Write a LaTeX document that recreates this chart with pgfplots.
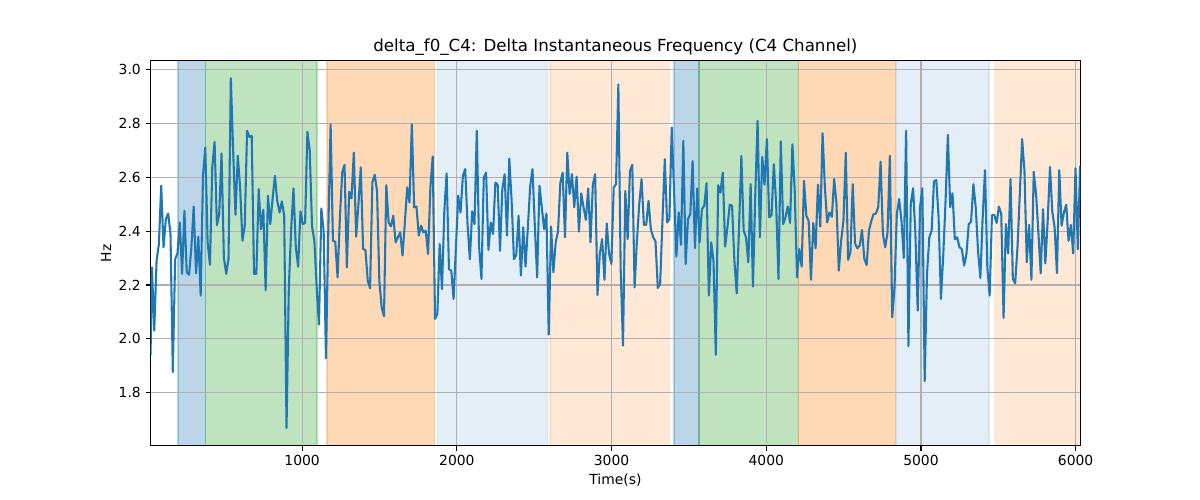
\documentclass[border=0pt]{standalone}
\usepackage{fontspec}
\setmainfont{DejaVu Sans}
\usepackage{pgfplots}
\pgfplotsset{compat=1.18}
\definecolor{c0}{HTML}{1F77B4}
\definecolor{c1}{HTML}{FF7F0E}
\definecolor{c2}{HTML}{2CA02C}
\definecolor{gridc}{HTML}{B0B0B0}
\pgfplotsset{span/.style={forget plot, fill=#1, draw=#1, line width=1pt},
  base/.style={at={(0,0)}, anchor=south west,
  scale only axis, width=669.5pt, height=277.2pt,
  xmin=20, xmax=6030, ymin=1.604, ymax=3.032}}
\begin{document}
\begin{tikzpicture}
\useasboundingbox (-108.4pt,-39.1pt) rectangle (755.7pt,320.9pt);
% background spans
\begin{axis}[base, hide axis]
\addplot[span=c0, fill opacity=0.3, draw opacity=0.3] coordinates {(197,1.604) (375,1.604) (375,3.032) (197,3.032) (197,1.604)};
\addplot[span=c2, fill opacity=0.3, draw opacity=0.3] coordinates {(375,1.604) (1096,1.604) (1096,3.032) (375,3.032) (375,1.604)};
\addplot[span=c1, fill opacity=0.3, draw opacity=0.3] coordinates {(1161,1.604) (1857,1.604) (1857,3.032) (1161,3.032) (1161,1.604)};
\addplot[span=c0, fill opacity=0.12, draw opacity=0.12] coordinates {(1876,1.604) (2586,1.604) (2586,3.032) (1876,3.032) (1876,1.604)};
\addplot[span=c1, fill opacity=0.17, draw opacity=0.17] coordinates {(2603,1.604) (3373,1.604) (3373,3.032) (2603,3.032) (2603,1.604)};
\addplot[span=c0, fill opacity=0.3, draw opacity=0.3] coordinates {(3404,1.604) (3566,1.604) (3566,3.032) (3404,3.032) (3404,1.604)};
\addplot[span=c2, fill opacity=0.3, draw opacity=0.3] coordinates {(3566,1.604) (4207,1.604) (4207,3.032) (3566,3.032) (3566,1.604)};
\addplot[span=c1, fill opacity=0.3, draw opacity=0.3] coordinates {(4207,1.604) (4834,1.604) (4834,3.032) (4207,3.032) (4207,1.604)};
\addplot[span=c0, fill opacity=0.12, draw opacity=0.12] coordinates {(4839,1.604) (5440,1.604) (5440,3.032) (4839,3.032) (4839,1.604)};
\addplot[span=c1, fill opacity=0.17, draw opacity=0.17] coordinates {(5475,1.604) (6030,1.604) (6030,3.032) (5475,3.032)};
\end{axis}
\begin{axis}[base,
  name=ax,
  xtick={1000,2000,3000,4000,5000,6000},
  ytick={1.8,2.0,2.2,2.4,2.6,2.8,3.0},
  xtick pos=left, ytick pos=left,
  tick align=outside,
  major tick length=3.5pt,
  tick style={black, line width=0.8pt},
  axis line style={black, line width=0.8pt},
  grid=major,
  grid style={gridc, line width=0.8pt},
  scaled ticks=false,
  /pgf/number format/assume math mode=true,
  xticklabel style={/pgf/number format/1000 sep={}},
  yticklabel style={/pgf/number format/fixed, /pgf/number format/fixed zerofill, /pgf/number format/precision=1},
  tick label style={font=\fontsize{10}{12}\selectfont},
]
\addplot[c0, line width=1.5pt, line join=round, mark=none] coordinates {
(20,1.94)
(29,2.265) (44,2.031) (59,2.29) (74,2.352) (89,2.568) (104,2.34) (119,2.444) (134,2.465) (149,2.389) (164,1.877)
(179,2.296) (194,2.317) (209,2.432) (224,2.241) (239,2.475) (254,2.247) (269,2.238) (284,2.339) (299,2.491) (314,2.243)
(329,2.379) (344,2.160) (359,2.605) (374,2.71) (389,2.358) (404,2.275) (419,2.636) (434,2.731) (449,2.422) (464,2.463)
(479,2.688) (494,2.302) (509,2.241) (524,2.296) (539,2.967) (554,2.698) (569,2.46) (584,2.679) (599,2.562) (614,2.364)
(629,2.42) (644,2.772) (659,2.749) (674,2.753) (689,2.241) (704,2.241) (719,2.556) (734,2.407) (749,2.479) (764,2.181)
(779,2.531) (794,2.426) (809,2.52) (824,2.605) (839,2.512) (854,2.469) (869,2.51) (884,2.457) (899,1.669) (914,2.191)
(929,2.407) (944,2.558) (959,2.34) (974,2.268) (989,2.473) (1004,2.426) (1019,2.43) (1034,2.768) (1049,2.698) (1064,2.417)
(1079,2.364) (1094,2.191) (1109,2.053) (1124,2.484) (1139,2.401) (1154,1.928) (1169,2.4) (1184,2.796) (1199,2.364) (1214,2.36)
(1229,2.228) (1244,2.45) (1259,2.617) (1274,2.646) (1289,2.265) (1304,2.546) (1319,2.521) (1334,2.691) (1349,2.379) (1364,2.5)
(1379,2.636) (1394,2.333) (1409,2.33) (1424,2.216) (1439,2.188) (1454,2.58) (1469,2.609) (1484,2.549) (1499,2.216) (1514,2.117)
(1529,2.084) (1544,2.57) (1559,2.432) (1574,2.417) (1589,2.457) (1604,2.358) (1619,2.377) (1634,2.395) (1649,2.309) (1664,2.432)
(1679,2.562) (1694,2.506) (1709,2.796) (1724,2.488) (1739,2.491) (1754,2.383) (1769,2.42) (1784,2.395) (1799,2.401) (1814,2.315)
(1829,2.562) (1844,2.677) (1859,2.074) (1874,2.093) (1889,2.352) (1904,2.185) (1919,2.475) (1934,2.614) (1949,2.259) (1964,2.253)
(1979,2.148) (1994,2.34) (2009,2.531) (2024,2.469) (2039,2.605) (2054,2.63) (2069,2.426) (2084,2.296) (2099,2.473) (2114,2.426)
(2129,2.772) (2144,2.34) (2159,2.222) (2174,2.599) (2189,2.617) (2204,2.33) (2219,2.432) (2234,2.389) (2249,2.58) (2264,2.572)
(2279,2.327) (2294,2.556) (2309,2.611) (2324,2.383) (2339,2.669) (2354,2.512) (2369,2.296) (2384,2.311) (2399,2.457) (2414,2.235)
(2429,2.414) (2444,2.268) (2459,2.414) (2474,2.565) (2489,2.63) (2504,2.42) (2519,2.228) (2534,2.568) (2549,2.488) (2564,2.407)
(2579,2.465) (2594,2.016) (2609,2.417) (2624,2.247) (2639,2.358) (2654,2.399) (2669,2.58) (2684,2.617) (2699,2.377) (2714,2.691)
(2729,2.537) (2744,2.611) (2759,2.488) (2774,2.602) (2789,2.398) (2804,2.54) (2819,2.488) (2834,2.441) (2849,2.558) (2864,2.358)
(2879,2.572) (2894,2.611) (2909,2.163) (2924,2.315) (2939,2.37) (2954,2.219) (2969,2.428) (2984,2.315) (2999,2.278) (3014,2.562)
(3029,2.574) (3044,2.944) (3059,2.259) (3074,1.975) (3089,2.549) (3104,2.37) (3119,2.623) (3134,2.646) (3149,2.191) (3164,2.364)
(3179,2.5) (3194,2.593) (3209,2.423) (3224,2.423) (3239,2.512) (3254,2.407) (3269,2.377) (3284,2.362) (3299,2.189) (3314,2.204)
(3329,2.438) (3344,2.667) (3359,2.432) (3374,2.444) (3389,2.784) (3404,2.549) (3419,2.305) (3434,2.469) (3449,2.349) (3464,2.735)
(3479,2.278) (3494,2.444) (3509,2.463) (3524,2.66) (3539,2.337) (3554,2.558) (3569,2.358) (3584,2.481) (3599,2.494) (3614,2.578)
(3629,2.161) (3644,2.358) (3659,2.29) (3674,1.941) (3689,2.57) (3704,2.543) (3719,2.617) (3734,2.342) (3749,2.414) (3764,2.498)
(3779,2.494) (3794,2.29) (3809,2.169) (3824,2.414) (3839,2.679) (3854,2.401) (3869,2.377) (3884,2.284) (3899,2.574) (3914,2.194)
(3929,2.537) (3944,2.809) (3959,2.377) (3974,2.675) (3989,2.572) (4004,2.741) (4019,2.451) (4034,2.459) (4049,2.648) (4064,2.5)
(4079,2.222) (4094,2.733) (4109,2.426) (4124,2.451) (4139,2.491) (4154,2.43) (4169,2.722) (4184,2.549) (4199,2.228) (4214,2.333)
(4229,2.268) (4244,2.586) (4259,2.457) (4274,2.438) (4289,2.219) (4304,2.43) (4319,2.336) (4334,2.572) (4349,2.417) (4364,2.763)
(4379,2.562) (4394,2.432) (4409,2.469) (4424,2.453) (4439,2.593) (4454,2.5) (4469,2.253) (4484,2.364) (4499,2.438) (4514,2.691)
(4529,2.293) (4544,2.321) (4559,2.574) (4574,2.354) (4589,2.336) (4604,2.346) (4619,2.404) (4634,2.296) (4649,2.274) (4664,2.401)
(4679,2.438) (4694,2.463) (4709,2.465) (4724,2.49) (4739,2.658) (4754,2.389) (4769,2.34) (4784,2.395) (4799,2.679) (4814,2.08)
(4829,2.191) (4844,2.463) (4859,2.519) (4874,2.438) (4889,2.3) (4904,2.772) (4919,1.973) (4934,2.5) (4949,2.559) (4964,2.389)
(4979,2.105) (4994,2.488) (5009,2.559) (5024,1.843) (5039,2.241) (5054,2.377) (5069,2.401) (5084,2.584) (5099,2.589) (5114,2.451)
(5129,2.148) (5144,2.309) (5159,2.512) (5174,2.757) (5189,2.488) (5204,2.54) (5219,2.37) (5234,2.377) (5249,2.34) (5264,2.333)
(5279,2.272) (5294,2.315) (5309,2.426) (5324,2.435) (5339,2.574) (5354,2.488) (5369,2.327) (5384,2.226) (5399,2.451) (5414,2.626)
(5429,2.265) (5444,2.16) (5459,2.46) (5474,2.46) (5489,2.43) (5504,2.491) (5519,2.463) (5534,2.078) (5549,2.426) (5564,2.317)
(5579,2.593) (5594,2.222) (5609,2.206) (5624,2.34) (5639,2.537) (5654,2.741) (5669,2.623) (5684,2.284) (5699,2.423) (5714,2.219)
(5729,2.62) (5744,2.537) (5759,2.395) (5774,2.243) (5789,2.481) (5804,2.28) (5819,2.438) (5834,2.638) (5849,2.472) (5864,2.414)
(5879,2.244) (5894,2.626) (5909,2.42) (5924,2.469) (5939,2.498) (5954,2.364) (5969,2.423) (5984,2.317) (5999,2.633) (6014,2.333)
(6029,2.642)
};
\end{axis}
\node[anchor=base, font=\fontsize{12}{14}\selectfont] at ([yshift=6.5pt]ax.north) {delta\_f0\_C4: Delta Instantaneous Frequency (C4 Channel)};
\node[anchor=base, font=\fontsize{10}{12}\selectfont] at ([yshift=-28pt]ax.south) {Time(s)};
\node[rotate=90, anchor=center, font=\fontsize{10}{12}\selectfont] at ([xshift=-32pt]ax.west) {Hz};
\end{tikzpicture}
\end{document}
